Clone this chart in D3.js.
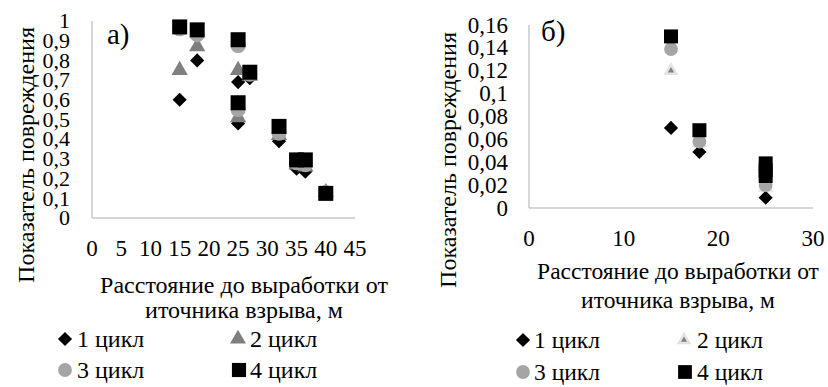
<!DOCTYPE html>
<html><head><meta charset="utf-8">
<script src="https://cdn.jsdelivr.net/npm/d3@7"></script>
</head>
<body style="margin:0;background:#fff">
<svg id="c" width="828" height="387"></svg>
<script>
// ---------- Data ----------
const seriesNames = ["1 цикл", "2 цикл", "3 цикл", "4 цикл"];

// Chart а)
const aX1 = [15, 18, 25, 25, 27, 32, 35, 36.5, 40];
const aY1 = [0.60, 0.80, 0.69, 0.48, 0.71, 0.39, 0.25, 0.235, 0.13];
const aX2 = [15, 18, 25, 25, 27, 32, 35, 36.5, 40];
const aY2 = [0.75, 0.87, 0.75, 0.51, 0.72, 0.42, 0.27, 0.26, 0.13];
const aX3 = [15, 18, 25, 25, 27, 32, 35, 36.5, 40];
const aY3 = [0.96, 0.93, 0.875, 0.55, 0.73, 0.43, 0.28, 0.27, 0.13];
const aX4 = [15, 18, 25, 25, 27, 32, 35, 36.5, 40];
const aY4 = [0.97, 0.955, 0.905, 0.585, 0.74, 0.465, 0.295, 0.295, 0.125];
const aXTicks = [0, 5, 10, 15, 20, 25, 30, 35, 40, 45];
const aYTicks = [0, 0.1, 0.2, 0.3, 0.4, 0.5, 0.6, 0.7, 0.8, 0.9, 1];

// Chart б)
const bX1 = [15, 18, 25];
const bY1 = [0.07, 0.049, 0.009];
const bX2 = [15, 18, 25];
const bY2 = [0.12, 0.057, 0.018];
const bX3 = [15, 18, 25];
const bY3 = [0.139, 0.058, 0.02];
const bX4 = [15, 18, 25, 25, 25];
const bY4 = [0.15, 0.068, 0.039, 0.033, 0.028];
const bXTicks = [0, 10, 20, 30];
const bYTicks = [0, 0.02, 0.04, 0.06, 0.08, 0.1, 0.12, 0.14, 0.16];

const yTitle = "Показатель повреждения";
const xTitle1 = "Расстояние до выработки от";
const xTitle2 = "иточника взрыва, м";

// ---------- Drawing ----------
const FONT = '"Liberation Serif", "Times New Roman", Tinos';
const svg = d3.select("#c");
const fmt = v => String(v).replace(".", ",");

const styles = [
  {type: d3.symbolSquare, rot: 45, fill: "#000"},
  {type: d3.symbolTriangle, rot: 0, fill: "#7f7f7f"},
  {type: d3.symbolCircle, rot: 0, fill: "#a5a5a5"},
  {type: d3.symbolSquare, rot: 0, fill: "#000"}
];

function txt(sel) {
  return sel.style("font-family", FONT).attr("fill", "#000");
}

function chart(o) {
  const g = svg.append("g");
  const x = d3.scaleLinear().domain(o.xDom).range(o.xRange);
  const y = d3.scaleLinear().domain(o.yDom).range(o.yRange);

  g.append("line").attr("x1", x(o.xDom[0])).attr("x2", x(o.xDom[0]))
    .attr("y1", y(o.yDom[1])).attr("y2", y(o.yDom[0]))
    .attr("stroke", "#c8c8c8").attr("stroke-width", 1.5);
  g.append("line").attr("x1", x(o.xDom[0])).attr("x2", x(o.xDom[1]))
    .attr("y1", y(o.yDom[0])).attr("y2", y(o.yDom[0]))
    .attr("stroke", "#c8c8c8").attr("stroke-width", 1.5);

  txt(g.selectAll(".yt").data(o.yTicks).join("text"))
    .attr("x", o.yLabelRight).attr("y", d => y(d))
    .attr("dy", "0.33em").attr("text-anchor", "end")
    .attr("font-size", o.yTickSize).text(fmt);
  txt(g.selectAll(".xt").data(o.xTicks).join("text"))
    .attr("x", d => x(d)).attr("y", o.xLabelY)
    .attr("dy", "0.33em").attr("text-anchor", "middle")
    .attr("font-size", o.tickSize).text(fmt);

  txt(g.append("text")).attr("transform", `translate(${o.yTitleX},${o.yTitleY}) rotate(-90)`)
    .attr("text-anchor", "middle").attr("font-size", 24).text(yTitle);
  txt(g.append("text")).attr("x", o.xTitleX).attr("y", o.xTitleY1)
    .attr("text-anchor", "middle").attr("font-size", o.titleSize).text(xTitle1);
  txt(g.append("text")).attr("x", o.xTitleX).attr("y", o.xTitleY2)
    .attr("text-anchor", "middle").attr("font-size", o.titleSize).text(xTitle2);

  txt(g.append("text")).attr("x", o.panelX).attr("y", o.panelY)
    .attr("font-size", 29).text(o.panel);

  o.series.forEach((s, i) => {
    const st = styles[i];
    const sym = d3.symbol().type(st.type).size(o.sizes[i]);
    const pts = s.xs.map((v, k) => [v, s.ys[k]]);
    g.append("g").selectAll("path").data(pts).join("path")
      .attr("d", sym)
      .attr("transform", d => `translate(${x(d[0])},${y(d[1])}) rotate(${st.rot})`)
      .attr("fill", st.fill)
      .attr("stroke", i === 1 ? o.triStroke : "none")
      .attr("stroke-width", i === 1 ? o.triStrokeW : 0);
  });

  seriesNames.forEach((name, i) => {
    const st = styles[i];
    const lp = o.legend[i];
    const sym = d3.symbol().type(st.type).size(o.legendSizes[i]);
    g.append("path").attr("d", sym)
      .attr("transform", `translate(${lp[0]},${lp[1] - 8}) rotate(${st.rot})`)
      .attr("fill", st.fill)
      .attr("stroke", i === 1 ? o.triStroke : "none")
      .attr("stroke-width", i === 1 ? o.triStrokeW : 0);
    txt(g.append("text")).attr("x", lp[2]).attr("y", lp[1])
      .attr("font-size", o.legendFont).text(name);
  });
}

chart({
  xDom: [0, 45], xRange: [92, 355],
  yDom: [0, 1], yRange: [218, 21],
  yTicks: aYTicks, xTicks: aXTicks, tickSize: 23, yTickSize: 22,
  yLabelRight: 70, xLabelY: 248,
  yTitleX: 34, yTitleY: 155,
  titleSize: 24,
  xTitleX: 244, xTitleY1: 293, xTitleY2: 318,
  panel: "а)", panelX: 107, panelY: 44,
  series: [{xs: aX1, ys: aY1}, {xs: aX2, ys: aY2}, {xs: aX3, ys: aY3}, {xs: aX4, ys: aY4}],
  sizes: [100, 115, 175, 225],
  triStroke: "none", triStrokeW: 0,
  legend: [[65, 347, 77], [238, 347, 250], [65, 378, 77], [239, 378, 250]],
  legendSizes: [100, 110, 150, 200], legendFont: 24
});

chart({
  xDom: [0, 30], xRange: [529, 813],
  yDom: [0, 0.16], yRange: [208, 25],
  yTicks: bYTicks, xTicks: bXTicks, tickSize: 23, yTickSize: 23,
  yLabelRight: 508, xLabelY: 238,
  yTitleX: 456, yTitleY: 160,
  titleSize: 23.5,
  xTitleX: 678, xTitleY1: 279, xTitleY2: 308,
  panel: "б)", panelX: 541, panelY: 41,
  series: [{xs: bX1, ys: bY1}, {xs: bX2, ys: bY2}, {xs: bX3, ys: bY3}, {xs: bX4, ys: bY4}],
  sizes: [100, 50, 150, 196],
  triStroke: "#e3e3e3", triStrokeW: 2.5,
  legend: [[523, 348, 534], [684, 348, 697], [523, 380, 534], [685, 380, 697]],
  legendSizes: [100, 45, 150, 190], legendFont: 23.5
});
</script>
</body></html>
